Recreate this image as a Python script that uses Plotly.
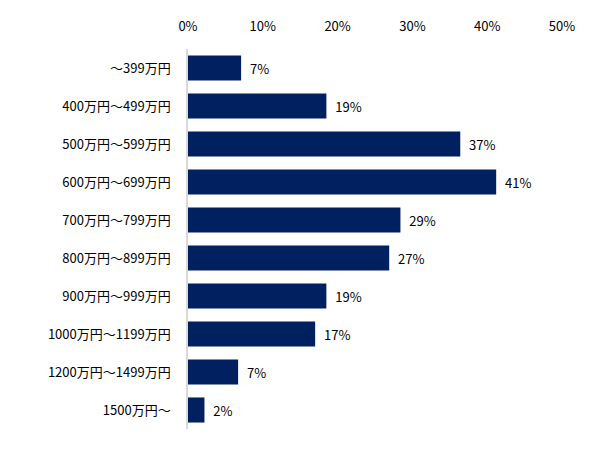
import plotly.graph_objects as go

categories = ['～399万円', '400万円～499万円', '500万円～599万円', '600万円～699万円',
              '700万円～799万円', '800万円～899万円', '900万円～999万円',
              '1000万円～1199万円', '1200万円～1499万円', '1500万円～']
values = [7.1, 18.5, 36.4, 41.2, 28.4, 26.9, 18.5, 17.0, 6.7, 2.2]
value_labels = ['7%', '19%', '37%', '41%', '29%', '27%', '19%', '17%', '7%', '2%']
x_ticks = [0, 10, 20, 30, 40, 50]
x_tick_labels = ['0%', '10%', '20%', '30%', '40%', '50%']

font_family = 'Noto Sans CJK JP'

fig = go.Figure(data=[go.Bar(
    y=categories,
    x=values,
    orientation='h',
    marker=dict(color='#002060', line=dict(width=0)),
    text=['  ' + t for t in value_labels],
    textposition='outside',
    textfont=dict(family=font_family, size=13, color='#000000'),
    cliponaxis=False,
)])

# the page body adds an 8px offset, so margins are shifted to compensate
fig.update_layout(
    width=590,
    height=460,
    margin=dict(l=180, r=36, t=41, b=39),
    paper_bgcolor='white',
    plot_bgcolor='white',
    bargap=0.34,
    showlegend=False,
    font=dict(family=font_family, size=13, color='#000000'),
    xaxis=dict(
        side='top',
        range=[0, 50],
        tickvals=x_ticks,
        ticktext=x_tick_labels,
        showgrid=False,
        zeroline=False,
        showline=False,
        ticks='',
        ticklabelstandoff=14,
        automargin=False,
        tickfont=dict(family=font_family, size=13, color='#000000'),
    ),
    yaxis=dict(
        categoryorder='array',
        categoryarray=categories[::-1],
        showgrid=False,
        zeroline=False,
        showline=True,
        linecolor='#d9d9d9',
        linewidth=1.5,
        ticks='',
        ticklabelstandoff=13,
        automargin=False,
        tickfont=dict(family=font_family, size=13, color='#000000'),
    ),
)

fig.write_html('out.html')
